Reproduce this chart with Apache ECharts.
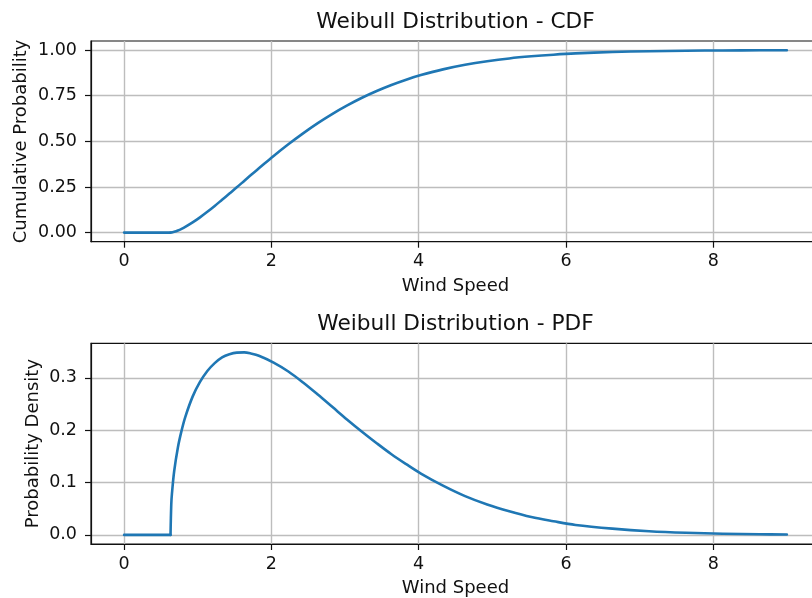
<!DOCTYPE html>
<html>
<head>
<meta charset="utf-8">
<script src="https://cdn.jsdelivr.net/npm/echarts@6/dist/echarts.min.js"></script>
<style>
html,body{margin:0;padding:0;background:#fff;}
#chart{width:812px;height:598px;}
</style>
</head>
<body>
<div id="chart"></div>
<script>
// Values
const windSpeed = [0, 0.63, 0.64, 0.65, 0.68, 0.73, 0.78, 0.83, 0.93, 1.03, 1.13, 1.23, 1.33, 1.43, 1.53, 1.63, 1.73, 1.83, 2.03, 2.23, 2.43, 2.63, 2.83, 3.03, 3.23, 3.43, 3.63, 3.83, 4.03, 4.33, 4.63, 4.93, 5.23, 5.53, 5.83, 6.13, 6.63, 7.13, 7.63, 8.13, 8.63, 9.0];
const cdfValues = [0, 0, 0.0004, 0.0011, 0.0042, 0.0115, 0.0207, 0.0313, 0.0558, 0.0836, 0.114, 0.146, 0.180, 0.214, 0.248, 0.283, 0.318, 0.352, 0.420, 0.484, 0.544, 0.600, 0.651, 0.697, 0.739, 0.776, 0.809, 0.838, 0.863, 0.8945, 0.9195, 0.939, 0.9545, 0.966, 0.975, 0.982, 0.9895, 0.994, 0.9967, 0.9982, 0.999, 0.9994];
const pdfValues = [0, 0, 0.058, 0.080, 0.122, 0.167, 0.199, 0.225, 0.264, 0.292, 0.313, 0.328, 0.339, 0.345, 0.348, 0.3484, 0.346, 0.342, 0.329, 0.312, 0.291, 0.268, 0.244, 0.220, 0.197, 0.175, 0.154, 0.135, 0.117, 0.094, 0.074, 0.058, 0.045, 0.034, 0.026, 0.019, 0.012, 0.007, 0.004, 0.0022, 0.0012, 0.0008];
const xTicks = [0, 2, 4, 6, 8];
const cdfTicks = [0, 0.25, 0.5, 0.75, 1.0];
const pdfTicks = [0, 0.1, 0.2, 0.3];
const titles = ['Weibull Distribution - CDF', 'Weibull Distribution - PDF'];
const xLabel = 'Wind Speed';
const yLabels = ['Cumulative Probability', 'Probability Density'];

const FONT = 'DejaVu Sans';
const BLUE = '#1f77b4';
const chart = echarts.init(document.getElementById('chart'), null, {renderer: 'canvas'});

// index where the curve leaves zero (location of the distribution)
const startIdx = 1;
const cdfData = windSpeed.map((x, i) => [x, cdfValues[i]]);
const pdfData = windSpeed.map((x, i) => [x, pdfValues[i]]);

const xMin = -0.45, xMax = 9.45;
const pdfMax = Math.max(...pdfValues);
const pad = 0.05;

function xAxisCfg(gi) {
  return {
    type: 'value', gridIndex: gi, min: xMin, max: xMax,
    axisLine: {show: true, onZero: false, lineStyle: {color: '#111', width: 1.2}},
    axisTick: {show: true, length: 6, lineStyle: {color: '#111', width: 1.2}, customValues: xTicks},
    axisLabel: {customValues: xTicks, margin: 11, color: '#111', fontFamily: FONT, fontSize: 17.5,
      formatter: v => String(Math.round(v))},
    splitLine: {show: true, lineStyle: {color: '#bdbdbd', width: 1.4}}
  };
}
function yAxisCfg(gi, mn, mx, ticks, dec) {
  return {
    type: 'value', gridIndex: gi, min: mn, max: mx,
    axisLine: {show: true, onZero: false, lineStyle: {color: '#111', width: 1.2}},
    axisTick: {show: true, length: 6, lineStyle: {color: '#111', width: 1.2}, customValues: ticks},
    axisLabel: {customValues: ticks, margin: 14, color: '#111', fontFamily: FONT, fontSize: 17.5,
      formatter: v => v.toFixed(dec)},
    splitLine: {show: true, lineStyle: {color: '#bdbdbd', width: 1.4}}
  };
}
function curve(xi, yi, data) {
  return [
    {type: 'line', xAxisIndex: xi, yAxisIndex: yi, data: data.slice(0, startIdx + 1), showSymbol: false, symbol: 'none',
      lineStyle: {color: BLUE, width: 2.6, cap: 'round', join: 'round'}, itemStyle: {color: BLUE}},
    {type: 'line', xAxisIndex: xi, yAxisIndex: yi, data: data.slice(startIdx), showSymbol: false, symbol: 'none',
      smooth: 0.35,
      lineStyle: {color: BLUE, width: 2.6, cap: 'round', join: 'round'}, itemStyle: {color: BLUE}}
  ];
}

const option = {
  backgroundColor: '#fff',
  animation: false,
  grid: [
    {left: 91, right: -8, top: 41, height: 200.7, show: true, borderColor: '#111', borderWidth: 1.2, backgroundColor: 'transparent', containLabel: false, outerBoundsMode: 'none'},
    {left: 91, right: -8, top: 343.3, height: 200.7, show: true, borderColor: '#111', borderWidth: 1.2, backgroundColor: 'transparent', containLabel: false, outerBoundsMode: 'none'}
  ],
  xAxis: [xAxisCfg(0), xAxisCfg(1)],
  yAxis: [
    yAxisCfg(0, -pad, 1 + pad, cdfTicks, 2),
    yAxisCfg(1, -pad * pdfMax, pdfMax * (1 + pad), pdfTicks, 1)
  ],
  series: [].concat(curve(0, 0, cdfData), curve(1, 1, pdfData)),
  graphic: [
    {type: 'text', x: 455.5, y: 22, style: {text: titles[0], fill: '#111', font: '21.7px "DejaVu Sans"', align: 'center', verticalAlign: 'middle'}},
    {type: 'text', x: 455.5, y: 324, style: {text: titles[1], fill: '#111', font: '21.7px "DejaVu Sans"', align: 'center', verticalAlign: 'middle'}},
    {type: 'text', x: 455.5, y: 286, style: {text: xLabel, fill: '#111', font: '18px "DejaVu Sans"', align: 'center', verticalAlign: 'middle'}},
    {type: 'text', x: 455.5, y: 588, style: {text: xLabel, fill: '#111', font: '18px "DejaVu Sans"', align: 'center', verticalAlign: 'middle'}},
    {type: 'text', x: 21, y: 141.4, rotation: Math.PI / 2, style: {text: yLabels[0], fill: '#111', font: '18px "DejaVu Sans"', align: 'center', verticalAlign: 'middle'}},
    {type: 'text', x: 33.5, y: 443.6, rotation: Math.PI / 2, style: {text: yLabels[1], fill: '#111', font: '18px "DejaVu Sans"', align: 'center', verticalAlign: 'middle'}}
  ]
};
chart.setOption(option);
</script>
</body>
</html>
